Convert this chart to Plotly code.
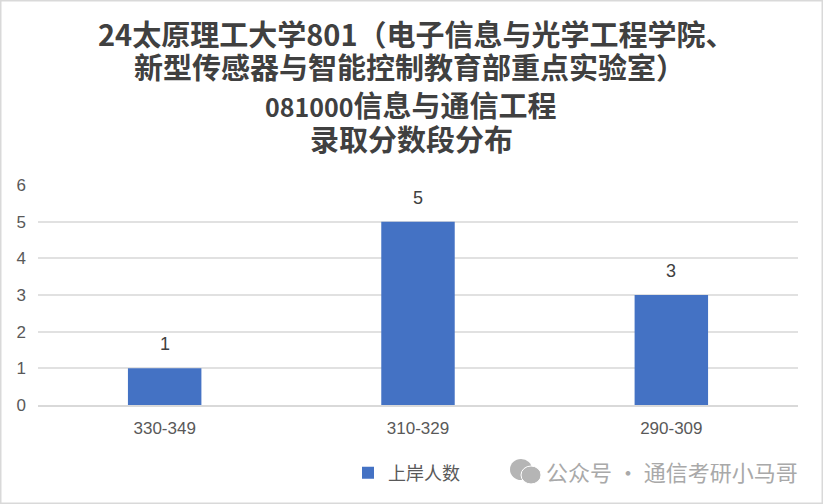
import plotly.graph_objects as go

categories = ["330-349", "310-329", "290-309"]
counts = [1, 5, 3]
series_name = "上岸人数"
title_lines = [
    "24太原理工大学801（电子信息与光学工程学院、",
    "新型传感器与智能控制教育部重点实验室）",
    "<span style=\"font-size:25px\">081000</span>信息与通信工程",
    "录取分数段分布",
]
title_y = [33.5, 65.5, 103.5, 137.5]
title_x = [416, 409, 411, 411]

W, H = 823, 504
L, R, T, B = 38, 25, 185, 99
CJK = "Noto Sans CJK SC"


def px(x):
    # paper coords are relative to the plot area, not the page
    return (x - L) / (W - L - R)


def py(y):
    return (H - B - y) / (H - T - B)


fig = go.Figure()
fig.add_trace(go.Bar(x=categories, y=counts, name=series_name, marker=dict(color="#4472C4", line_width=0)))

for c, v in zip(categories, counts):
    fig.add_annotation(x=c, y=v, text=str(v), showarrow=False, yshift=24, yanchor="middle",
                       font=dict(size=18, color="#404040", family="Liberation Sans"))

# title is four separately placed lines, the spacing is not even
for line, x, y in zip(title_lines, title_x, title_y):
    fig.add_annotation(text="<b>%s</b>" % line, xref="paper", yref="paper",
                       x=px(x), y=py(y), showarrow=False, xanchor="center", yanchor="middle",
                       font=dict(size=29, color="#404040", family=CJK))

# watermark
fig.add_annotation(text="公众号 · 通信考研小马哥", xref="paper", yref="paper",
                   x=px(544), y=py(471), showarrow=False, xanchor="left", yanchor="middle",
                   font=dict(size=22, color="#a9a9a9", family=CJK))
fig.add_shape(type="circle", xref="paper", yref="paper", x0=px(510), x1=px(532),
              y0=py(480), y1=py(459), fillcolor="#b5b5b5", line_width=0)
fig.add_shape(type="circle", xref="paper", yref="paper", x0=px(521), x1=px(541),
              y0=py(484), y1=py(466), fillcolor="#b5b5b5", line=dict(color="white", width=1))

# thin grey frame of the screenshot
fig.add_shape(type="rect", xref="paper", yref="paper", x0=px(0), x1=px(W), y0=py(H), y1=py(0),
              line=dict(color="#d9d9d9", width=3), layer="above")

fig.update_layout(
    width=W, height=H,
    margin=dict(l=L, r=R, t=T, b=B),
    paper_bgcolor="white", plot_bgcolor="white",
    bargap=0.71,
    showlegend=True,
    legend=dict(x=px(348), y=py(473), xanchor="left", yanchor="middle",
                font=dict(size=18, color="#595959", family=CJK), bgcolor="rgba(0,0,0,0)"),
    font=dict(family="Liberation Sans"),
)
fig.update_xaxes(type="category", showgrid=False, showline=True, linecolor="#d9d9d9", linewidth=2,
                 ticks="", ticklabelstandoff=7, tickfont=dict(size=17, color="#595959"))
fig.update_yaxes(range=[0, 6], dtick=1, gridcolor="#e1e1e1", gridwidth=2, zeroline=False,
                 ticks="", ticklabelstandoff=11, tickfont=dict(size=17, color="#595959"))

fig.write_html("out.html", config=dict(displayModeBar=False), post_script="document.body.style.margin='0';")
